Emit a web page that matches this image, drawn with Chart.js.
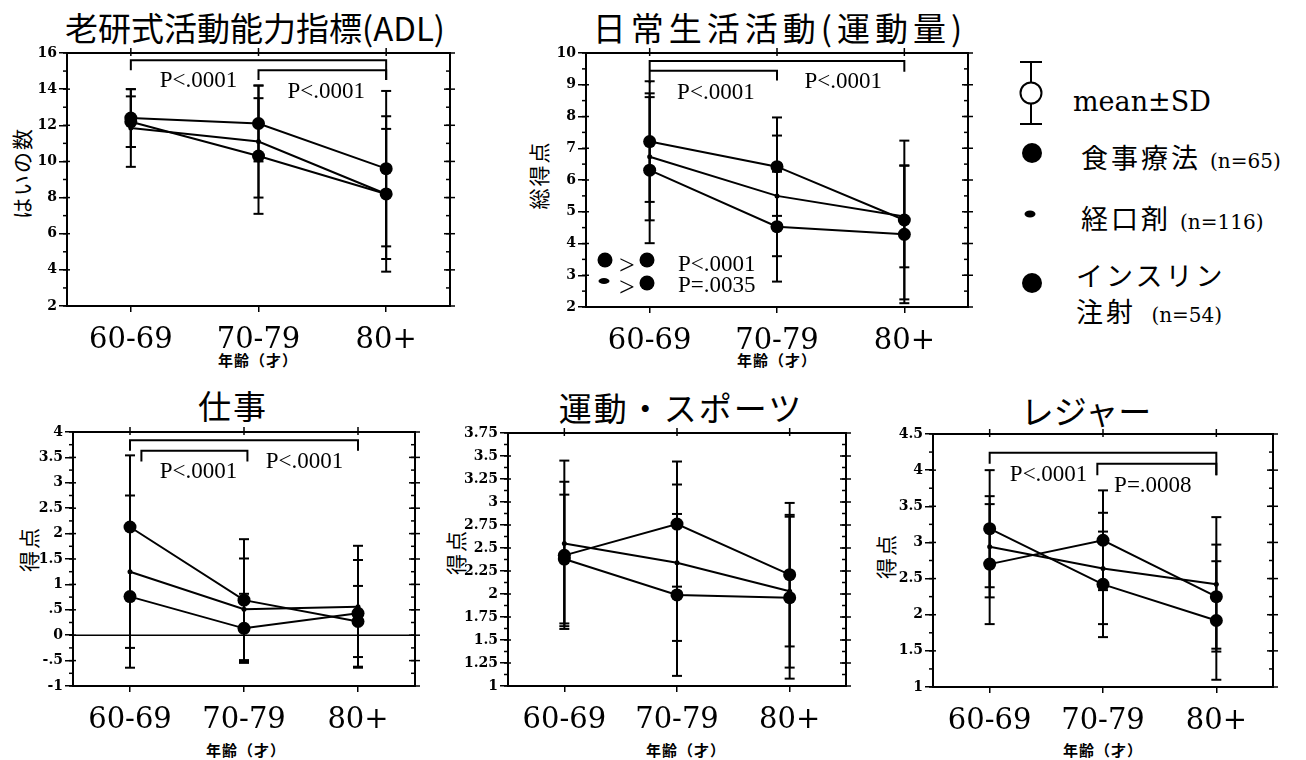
<!DOCTYPE html>
<html lang="ja">
<head>
<meta charset="utf-8">
<title>年齢別 活動能力・日常生活活動</title>
<script src="https://cdn.jsdelivr.net/npm/chart.js@4.4.1/dist/chart.umd.min.js"></script>
<style>
  body { margin: 0; background: #fff; }
  #page { position: relative; width: 1306px; height: 760px; overflow: hidden; color: #000;
          font-family: "Noto Sans CJK JP", sans-serif; }
  canvas { position: absolute; }
  .title { position: absolute; font-size: 33px; line-height: 1; white-space: nowrap; transform: translate(-50%, -50%); }
  .ylab { position: absolute; font-size: 21px; line-height: 1; white-space: nowrap; letter-spacing: 2px;
          transform: translate(-50%, -50%) rotate(-90deg); }
  .xlab { position: absolute; font-size: 15px; font-weight: bold; line-height: 1; white-space: nowrap;
          letter-spacing: 1px; transform: translate(-50%, -50%); }
  .dot { position: absolute; border-radius: 50%; background: #000; transform: translate(-50%, -50%); }
  .txt { position: absolute; line-height: 1; white-space: nowrap; transform: translateY(-50%); }
  .leg { font-size: 27px; letter-spacing: 3px; }
  .leg span { letter-spacing: 0; }
  .serif { font-family: "DejaVu Serif", serif; }
  .times { font-family: "Liberation Serif", serif; }
  .bar { position: absolute; background: #000; }
</style>
</head>
<body>
<div id="page">
  <div class="title" style="left:255px;top:27px;">老研式活動能力指標(ADL)</div>
  <div class="title" style="left:780px;top:27px;letter-spacing:5px;">日常生活活動(運動量)</div>
  <div class="title" style="left:233px;top:405px;letter-spacing:2px;">仕事</div>
  <div class="title" style="left:681px;top:407px;letter-spacing:2px;">運動・スポーツ</div>
  <div class="title" style="left:1086px;top:410px;">レジャー</div>

  <div class="ylab" style="left:21px;top:173px;">はいの数</div>
  <div class="ylab" style="left:538px;top:175px;">総得点</div>
  <div class="ylab" style="left:28px;top:549px;">得点</div>
  <div class="ylab" style="left:455px;top:552px;">得点</div>
  <div class="ylab" style="left:885px;top:556px;">得点</div>

  <div class="xlab" style="left:258px;top:359px;">年齢（才）</div>
  <div class="xlab" style="left:777px;top:359px;">年齢（才）</div>
  <div class="xlab" style="left:246px;top:749px;">年齢（才）</div>
  <div class="xlab" style="left:686px;top:749px;">年齢（才）</div>
  <div class="xlab" style="left:1103px;top:749px;">年齢（才）</div>

  <canvas id="adl" width="470" height="330" style="left:0;top:40px;"></canvas>
  <canvas id="daily" width="490" height="330" style="left:500px;top:40px;"></canvas>
  <canvas id="work" width="440" height="320" style="left:0;top:420px;"></canvas>
  <canvas id="sport" width="430" height="320" style="left:440px;top:420px;"></canvas>
  <canvas id="leisure" width="430" height="320" style="left:870px;top:420px;"></canvas>

  <!-- 日常生活活動の群間比較 -->
  <div class="dot" style="left:605px;top:260px;width:15px;height:15px;"></div>
  <div class="txt times" style="left:619px;top:265px;font-size:28px;">&gt;</div>
  <div class="dot" style="left:647px;top:260px;width:15px;height:15px;"></div>
  <div class="txt times" style="left:678px;top:263px;font-size:23px;">P&lt;.0001</div>
  <div class="dot" style="left:604px;top:281px;width:11px;height:6px;"></div>
  <div class="txt times" style="left:619px;top:287px;font-size:28px;">&gt;</div>
  <div class="dot" style="left:647px;top:283px;width:15px;height:15px;"></div>
  <div class="txt times" style="left:678px;top:284px;font-size:23px;">P=.0035</div>

  <!-- 凡例 -->
  <div class="bar" style="left:1030px;top:62px;width:2px;height:62px;"></div>
  <div class="bar" style="left:1020px;top:61px;width:22px;height:2px;"></div>
  <div class="bar" style="left:1020px;top:123px;width:22px;height:2px;"></div>
  <div class="dot" style="left:1031px;top:93px;width:19px;height:19px;background:#fff;border:2px solid #000;"></div>
  <div class="txt serif" style="left:1073px;top:101px;font-size:27px;">mean±SD</div>

  <div class="dot" style="left:1032px;top:153px;width:20px;height:20px;"></div>
  <div class="txt leg" style="left:1081px;top:157px;">食事療法 <span class="serif" style="font-size:20px;">(n=65)</span></div>

  <div class="dot" style="left:1030px;top:214px;width:11px;height:7px;"></div>
  <div class="txt leg" style="left:1081px;top:218px;">経口剤 <span class="serif" style="font-size:20px;">(n=116)</span></div>

  <div class="dot" style="left:1032px;top:283px;width:20px;height:20px;"></div>
  <div class="txt leg" style="left:1076px;top:274px;">インスリン</div>
  <div class="txt leg" style="left:1076px;top:311px;">注射 <span class="serif" style="font-size:20px;">&nbsp;(n=54)</span></div>
</div>

<script>
const ageGroups = ['60-69', '70-79', '80+'];

// 老研式活動能力指標(ADL)
const adlTicks = ['2', '4', '6', '8', '10', '12', '14', '16'];
const adlDiet = [12.4, 12.1, 9.6];
const adlDietSD = [1.6, 2.1, 4.3];
const adlOral = [11.85, 11.1, 8.2];
const adlOralSD = [2.15, 3.1, 3.6];
const adlInsulin = [12.2, 10.3, 8.2];
const adlInsulinSD = [1.4, 3.2, 4.3];

// 日常生活活動(運動量)
const dailyTicks = ['2', '3', '4', '5', '6', '7', '8', '9', '10'];
const dailyDiet = [7.21, 6.42, 4.74];
const dailyDietSD = [1.9, 1.55, 2.5];
const dailyOral = [6.73, 5.5, 4.85];
const dailyOralSD = [2.0, 1.9, 1.6];
const dailyInsulin = [6.31, 4.53, 4.29];
const dailyInsulinSD = [2.3, 1.73, 2.17];

// 仕事
const workTicks = ['-1', '-.5', '0', '.5', '1', '1.5', '2', '2.5', '3', '3.5', '4'];
const workDiet = [2.13, 0.69, 0.27];
const workDietSD = [1.41, 1.2, 0.7];
const workOral = [1.25, 0.51, 0.56];
const workOralSD = [1.5, 1.0, 1.2];
const workInsulin = [0.76, 0.135, 0.43];
const workInsulinSD = [1.4, 0.68, 1.05];

// 運動・スポーツ
const sportTicks = ['1', '1.25', '1.5', '1.75', '2', '2.25', '2.5', '2.75', '3', '3.25', '3.5', '3.75'];
const sportDiet = [2.42, 2.76, 2.21];
const sportDietSD = [0.8, 0.68, 0.78];
const sportOral = [2.55, 2.34, 2.03];
const sportOralSD = [0.9, 0.85, 0.83];
const sportInsulin = [2.38, 1.99, 1.96];
const sportInsulinSD = [0.7, 0.88, 0.88];

// レジャー
const leisureTicks = ['1', '1.5', '2', '2.5', '3', '3.5', '4', '4.5'];
const leisureDiet = [2.7, 3.03, 2.25];
const leisureDietSD = [0.83, 0.69, 0.72];
const leisureOral = [2.94, 2.64, 2.42];
const leisureOralSD = [0.7, 0.77, 0.93];
const leisureInsulin = [3.19, 2.42, 1.92];
const leisureInsulinSD = [0.81, 0.73, 0.82];


// 枠・副目盛・SDバー・有意差の括弧を描く
const panelDecor = {
    id: 'panelDecor',
    afterDatasetsDraw(chart, args, opts) {
        const ctx = chart.ctx;
        const { left, right, top, bottom } = chart.chartArea;
        const x = chart.scales.x;
        const y = chart.scales.y;

        const line = (x1, y1, x2, y2) => {
            ctx.beginPath();
            ctx.moveTo(x1, y1);
            ctx.lineTo(x2, y2);
            ctx.stroke();
        };

        ctx.save();
        ctx.strokeStyle = '#000';
        ctx.fillStyle = '#000';

        ctx.lineWidth = 2;
        ctx.beginPath();
        ctx.moveTo(left - 1, top);
        ctx.lineTo(right, top);
        ctx.lineTo(right, bottom + 1);
        ctx.stroke();

        if (opts.zeroLine) {
            ctx.lineWidth = 1.5;
            line(left, y.getPixelForValue(0), right, y.getPixelForValue(0));
        }

        // 目盛
        ctx.lineWidth = 1.5;
        y.ticks.forEach(t => {
            const py = y.getPixelForValue(t.value);
            line(right - 6, py, right + 5, py);
            line(left, py, left + 3, py);
        });
        for (let v = y.min; v <= y.max + 1e-9; v += opts.minor) {
            const py = y.getPixelForValue(v);
            line(left - 4, py, left, py);
            line(right - 4, py, right, py);
        }
        x.ticks.forEach(t => {
            const px = x.getPixelForValue(t.value);
            line(px, top - 5, px, top + 3);
        });

        // mean ± SD
        ctx.lineWidth = 2;
        chart.data.datasets.forEach(ds => {
            ds.data.forEach((p, j) => {
                const px = x.getPixelForValue(p.x);
                const hi = y.getPixelForValue(p.y + ds.sd[j]);
                const lo = y.getPixelForValue(p.y - ds.sd[j]);
                line(px, hi, px, lo);
                line(px - 5, hi, px + 5, hi);
                line(px - 5, lo, px + 5, lo);
            });
        });

        // 有意差
        ctx.lineWidth = 2;
        (opts.brackets || []).forEach(b => {
            const x1 = x.getPixelForValue(b.from);
            const x2 = x.getPixelForValue(b.to);
            const yb = y.getPixelForValue(b.y);
            ctx.beginPath();
            ctx.moveTo(x1, y.getPixelForValue(b.y - b.legL));
            ctx.lineTo(x1, yb);
            ctx.lineTo(x2, yb);
            ctx.lineTo(x2, y.getPixelForValue(b.y - b.legR));
            ctx.stroke();
        });

        ctx.font = '23px "Liberation Serif"';
        ctx.textAlign = 'center';
        ctx.textBaseline = 'middle';
        (opts.notes || []).forEach(n => {
            ctx.fillText(n.text, x.getPixelForValue(n.x), y.getPixelForValue(n.y));
        });

        ctx.restore();
    }
};


function serie(values, sd, big) {
    return {
        data: values.map((v, i) => ({ x: i + 1, y: v })),
        sd: sd,
        borderColor: '#000',
        backgroundColor: '#000',
        borderWidth: 2,
        pointRadius: big ? 6.5 : 2.5,
        pointHoverRadius: big ? 6.5 : 2.5,
        pointBorderWidth: 0,
        tension: 0,
        clip: false
    };
}


function criarPainel(id, box, area, ticks, series, decor) {
    const tickValues = ticks.map(Number);

    return new Chart(document.getElementById(id), {
        type: 'line',
        data: { datasets: series },
        options: {
            responsive: false,
            animation: false,
            events: [],
            layout: {
                padding: { left: 0, top: area.y0 - box.top, right: box.left + box.w - area.x1, bottom: 0 }
            },
            plugins: {
                legend: { display: false },
                tooltip: { enabled: false },
                panelDecor: decor
            },
            scales: {
                x: {
                    type: 'linear',
                    min: 0.5,
                    max: 3.5,
                    afterBuildTicks: s => { s.ticks = ageGroups.map((g, i) => ({ value: i + 1 })); },
                    afterFit: s => { s.height = box.top + box.h - area.y1; },
                    grid: { drawOnChartArea: false, tickLength: 6, color: '#000', lineWidth: 1.5 },
                    border: { color: '#000', width: 2 },
                    ticks: {
                        color: '#000',
                        padding: 11,
                        maxRotation: 0,
                        font: { family: '"DejaVu Serif"', size: 29 },
                        callback: (v, i) => ageGroups[i]
                    }
                },
                y: {
                    min: tickValues[0],
                    max: tickValues[tickValues.length - 1],
                    afterBuildTicks: s => { s.ticks = tickValues.map(v => ({ value: v })); },
                    afterFit: s => { s.width = area.x0 - box.left; },
                    grid: { drawOnChartArea: false, tickLength: 8, color: '#000', lineWidth: 1.5 },
                    border: { color: '#000', width: 2 },
                    ticks: {
                        color: '#000',
                        padding: 2,
                        font: { family: '"DejaVu Serif"', size: 14, weight: 'bold' },
                        callback: (v, i) => ticks[i]
                    }
                }
            }
        },
        plugins: [panelDecor]
    });
}


function desenharTudo() {
    criarPainel('adl',
        { left: 0, top: 40, w: 470, h: 330 },
        { x0: 67, x1: 450, y0: 53, y1: 306 },
        adlTicks,
        [serie(adlDiet, adlDietSD, true), serie(adlOral, adlOralSD, false), serie(adlInsulin, adlInsulinSD, true)],
        {
            minor: 1,
            brackets: [
                { from: 1, to: 3, y: 15.6, legL: 0.55, legR: 1.1 },
                { from: 2, to: 3, y: 15.05, legL: 0.55, legR: 0.55 }
            ],
            notes: [{ x: 1.53, y: 14.45, text: 'P<.0001' }, { x: 2.53, y: 13.85, text: 'P<.0001' }]
        });

    criarPainel('daily',
        { left: 500, top: 40, w: 490, h: 330 },
        { x0: 586, x1: 968, y0: 53, y1: 307 },
        dailyTicks,
        [serie(dailyDiet, dailyDietSD, true), serie(dailyOral, dailyOralSD, false), serie(dailyInsulin, dailyInsulinSD, true)],
        {
            minor: 0.5,
            brackets: [
                { from: 1, to: 3, y: 9.75, legL: 0.7, legR: 0.34 },
                { from: 1, to: 2, y: 9.44, legL: 0, legR: 0.31 }
            ],
            notes: [{ x: 1.52, y: 8.74, text: 'P<.0001' }, { x: 2.52, y: 9.09, text: 'P<.0001' }]
        });

    criarPainel('work',
        { left: 0, top: 420, w: 440, h: 320 },
        { x0: 73, x1: 415, y0: 432, y1: 686 },
        workTicks,
        [serie(workDiet, workDietSD, true), serie(workOral, workOralSD, false), serie(workInsulin, workInsulinSD, true)],
        {
            minor: 0.25,
            zeroLine: true,
            brackets: [
                { from: 1, to: 3, y: 3.84, legL: 0.21, legR: 0.21 },
                { from: 1.1, to: 2.03, y: 3.63, legL: 0.21, legR: 0.21 }
            ],
            notes: [{ x: 1.6, y: 3.21, text: 'P<.0001' }, { x: 2.53, y: 3.41, text: 'P<.0001' }]
        });

    criarPainel('sport',
        { left: 440, top: 420, w: 430, h: 320 },
        { x0: 508, x1: 846, y0: 433, y1: 686 },
        sportTicks,
        [serie(sportDiet, sportDietSD, true), serie(sportOral, sportOralSD, false), serie(sportInsulin, sportInsulinSD, true)],
        { minor: 0.125 });

    criarPainel('leisure',
        { left: 870, top: 420, w: 430, h: 320 },
        { x0: 933, x1: 1273, y0: 434, y1: 687 },
        leisureTicks,
        [serie(leisureDiet, leisureDietSD, true), serie(leisureOral, leisureOralSD, false), serie(leisureInsulin, leisureInsulinSD, true)],
        {
            minor: 0.25,
            brackets: [
                { from: 1, to: 3, y: 4.24, legL: 0.15, legR: 0.31 },
                { from: 1.95, to: 3, y: 4.09, legL: 0.16, legR: 0.16 }
            ],
            notes: [{ x: 1.52, y: 3.93, text: 'P<.0001' }, { x: 2.44, y: 3.78, text: 'P=.0008' }]
        });
}

document.addEventListener('DOMContentLoaded', desenharTudo);
</script>
</body>
</html>
